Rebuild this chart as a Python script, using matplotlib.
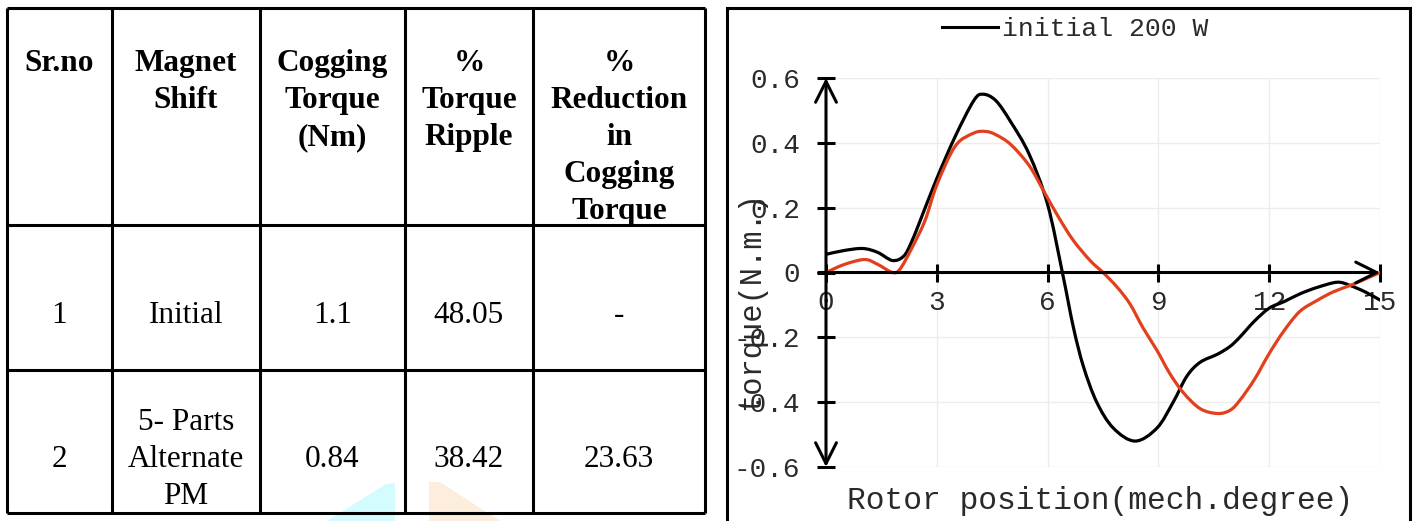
import numpy as np
import matplotlib
matplotlib.use("Agg")
import matplotlib.pyplot as plt
from matplotlib.lines import Line2D
from matplotlib.patches import Rectangle, Polygon, PathPatch
from matplotlib.path import Path

# ---- table data ----
headers = ["Sr.no", "Magnet\nShift", "Cogging\nTorque\n(Nm)", "%\nTorque\nRipple",
           "%\nReduction\nin\nCogging\nTorque"]
sr_no = ["1", "2"]
magnet_shift = ["Initial", "5- Parts\nAlternate\nPM"]
cogging_torque = ["1.1", "0.84"]
torque_ripple = ["48.05", "38.42"]
reduction = ["-", "23.63"]

# ---- curve data (rotor position in mech. degree, torque in N.m) ----
x_initial = [0, 0.5, 1.0, 1.4, 1.8, 2.1, 2.3, 2.55, 3.0, 3.5, 4.0, 4.25, 4.6, 5.0, 5.5,
             6.0, 6.4, 6.7, 6.97, 7.33, 7.78, 8.37, 8.96, 9.4, 9.77, 10.13, 10.6, 10.94,
             11.2, 11.6, 12.0, 12.4, 12.83, 13.3, 13.84, 14.19, 14.6, 15.0]
y_initial = [0.056, 0.068, 0.074, 0.062, 0.037, 0.05, 0.09, 0.16, 0.29, 0.42, 0.53, 0.55,
             0.53, 0.465, 0.365, 0.21, 0.0, -0.17, -0.29, -0.40, -0.48, -0.52, -0.48,
             -0.40, -0.32, -0.277, -0.252, -0.228, -0.2, -0.15, -0.11, -0.09, -0.066,
             -0.046, -0.03, -0.04, -0.06, -0.085]
x_alt = [0, 0.5, 1.05, 1.4, 1.8, 2.0, 2.3, 2.68, 3.0, 3.5, 4.0, 4.33, 4.6, 5.0, 5.5, 5.9,
         6.3, 6.69, 7.15, 7.5, 7.88, 8.23, 8.58, 8.96, 9.3, 9.67, 10.13, 10.6, 10.94, 11.2,
         11.6, 12.0, 12.4, 12.83, 13.3, 13.73, 14.19, 14.6, 15.0]
y_alt = [0.0, 0.025, 0.04, 0.025, 0.0, 0.01, 0.07, 0.16, 0.27, 0.39, 0.43, 0.435, 0.425,
         0.395, 0.33, 0.25, 0.17, 0.1, 0.037, 0.0, -0.045, -0.097, -0.17, -0.24, -0.31,
         -0.37, -0.42, -0.435, -0.425, -0.395, -0.33, -0.25, -0.18, -0.12, -0.086, -0.06,
         -0.04, -0.02, 0.0]

x_ticks = [0, 3, 6, 9, 12, 15]
y_ticks = [-0.6, -0.4, -0.2, 0, 0.2, 0.4, 0.6]
y_tick_labels = ["-0.6", "-0.4", "-0.2", "0", "0.2", "0.4", "0.6"]

W, H = 1415, 521
fig = plt.figure(figsize=(W / 100, H / 100), dpi=100)
mono = "Liberation Mono"
serif = "Liberation Serif"


def smooth_path(xs, ys):
    # excel style smoothed line: bezier segments through the points
    p = np.column_stack([xs, ys]).astype(float)
    n = len(p)
    verts = [p[0]]
    codes = [Path.MOVETO]
    for i in range(n - 1):
        p0 = p[i - 1] if i > 0 else p[i]
        p3 = p[i + 2] if i + 2 < n else p[i + 1]
        c1 = p[i] + (p[i + 1] - p0) / 6
        c2 = p[i + 1] - (p3 - p[i]) / 6
        verts += [c1, c2, p[i + 1]]
        codes += [Path.CURVE4] * 3
    return Path(verts, codes)


# ---------------- table (pixel coords) ----------------
tax = fig.add_axes([0, 0, 1, 1])
tax.set_xlim(0, W)
tax.set_ylim(H, 0)
tax.axis("off")

# watermark fragments at the bottom
tax.add_patch(Polygon([(327, 521), (386, 484), (395, 483), (395, 521)],
                      closed=True, color="#d4fbfd", lw=0, zorder=0))
tax.add_patch(Polygon([(429, 521), (429, 482), (440, 482), (500, 521)],
                      closed=True, color="#fdeddc", lw=0, zorder=0))

col_edges = [7, 112, 260, 405, 533, 705]
row_edges = [8, 225, 370, 513]
tax.vlines(col_edges, row_edges[0], row_edges[-1], color="black", lw=2.2)
tax.hlines(row_edges, col_edges[0], col_edges[-1], color="black", lw=2.2)

line_step = 37
centers = [(col_edges[i] + col_edges[i + 1]) / 2 for i in range(5)]


def put_cell(cx, base_y, text, bold=False):
    for k, ln in enumerate(text.split("\n")):
        tax.text(cx, base_y + k * line_step, ln, ha="center", va="baseline",
                 fontsize=22.5, family=serif, fontweight="bold" if bold else "normal")


for cx, h in zip(centers, headers):
    put_cell(cx, 71, h, bold=True)

columns = [sr_no, magnet_shift, cogging_torque, torque_ripple, reduction]
row_mid_base = [323, 467]
for r in range(2):
    for cx, col in zip(centers, columns):
        txt = col[r]
        n = len(txt.split("\n"))
        put_cell(cx, row_mid_base[r] - (n - 1) / 2 * line_step, txt)

# right panel frame
fig.patches.append(Rectangle((727 / W, -0.1), (1410 - 727) / W, 1.1 - 8 / H,
                             transform=fig.transFigure, fill=False, lw=2.2,
                             edgecolor="black"))

# ---------------- chart ----------------
ax = fig.add_axes([826 / W, 1 - 467 / H, 554 / W, 389 / H])
ax.patch.set_alpha(0)
ax.add_patch(PathPatch(smooth_path(x_initial, y_initial), fill=False, edgecolor="black",
                       lw=2.3, zorder=3, capstyle="round", joinstyle="round"))
ax.add_patch(PathPatch(smooth_path(x_alt, y_alt), fill=False, edgecolor="#e2401c",
                       lw=2.3, zorder=3, capstyle="round", joinstyle="round"))
ax.set_xlim(0, 15)
ax.set_ylim(-0.6, 0.6)

ax.spines["left"].set_position(("data", 0))
ax.spines["bottom"].set_position(("data", 0))
for s in ["top", "right", "left", "bottom"]:
    ax.spines[s].set_visible(False)

ax.set_xticks(x_ticks)
ax.set_xticklabels([str(t) for t in x_ticks])
ax.set_yticks(y_ticks)
ax.set_yticklabels(y_tick_labels)
ax.tick_params(axis="both", direction="inout", length=13, width=2.2, color="black",
               labelsize=20, labelcolor="#2a2a2a")
ax.tick_params(axis="x", pad=6)
ax.tick_params(axis="y", pad=12)
for lab in ax.get_xticklabels() + ax.get_yticklabels():
    lab.set_family(mono)

ax.grid(True, color="#ececec", lw=1)
ax.set_axisbelow(True)

ax.annotate("", xy=(0, 0.6), xytext=(0, -0.6),
            arrowprops=dict(arrowstyle="<->,head_length=0.6,head_width=0.3", lw=2.2,
                            color="black", shrinkA=0, shrinkB=0, mutation_scale=25),
            annotation_clip=False, zorder=4)
ax.annotate("", xy=(15, 0), xytext=(-0.2, 0),
            arrowprops=dict(arrowstyle="->,head_length=0.6,head_width=0.3", lw=2.2,
                            color="black", shrinkA=0, shrinkB=0, mutation_scale=25),
            annotation_clip=False, zorder=4)

fig.text(751 / W, 1 - 301 / H, "torque(N.m.)", rotation=90, ha="center", va="center",
         fontsize=22, family=mono, color="#2a2a2a")
fig.text(1100 / W, 1 - 501 / H, "Rotor position(mech.degree)", ha="center", va="center",
         fontsize=22.5, family=mono, color="#2a2a2a")

leg_handle = Line2D([], [], color="black", lw=2.2)
fig.legend([leg_handle], ["initial 200 W"], loc="center",
           bbox_to_anchor=(1075 / W, 1 - 29 / H), frameon=False,
           prop={"family": mono, "size": 19}, handlelength=2.1, handletextpad=0.15,
           labelcolor="#2a2a2a")

fig.savefig("out.png", dpi=100)
